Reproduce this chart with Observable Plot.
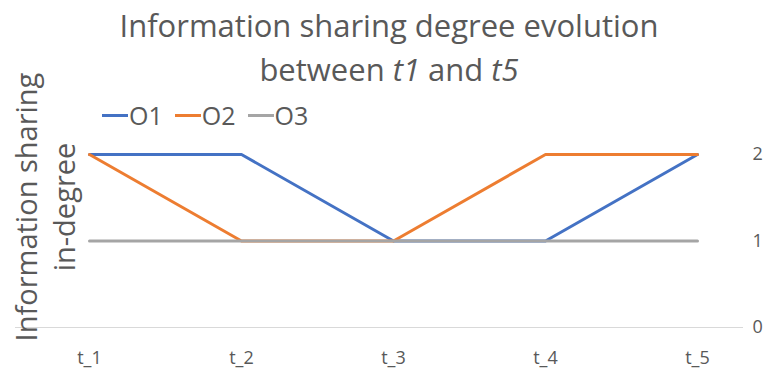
<!DOCTYPE html>
<html>
<head>
<meta charset="utf-8">
<script src="https://cdn.jsdelivr.net/npm/d3@7"></script>
<script src="https://cdn.jsdelivr.net/npm/@observablehq/plot@0.6"></script>
<style>
  html, body { margin: 0; padding: 0; background: #fff; }
  #wrap { position: relative; width: 764px; height: 368px; overflow: hidden; font-family: "Open Sans", sans-serif; color: #595959; }
  #title { height: 92px; text-align: center; font-size: 31px; line-height: 44px; padding-top: 3px; box-sizing: border-box; padding-left: 14px; }
  #legend { height: 46px; display: flex; align-items: center; padding-left: 102px; font-size: 25px; gap: 12px; }
  .item { display: flex; align-items: center; gap: 1px; }
  .sw { width: 26px; height: 3px; }
  #ylab { position: absolute; left: 45px; top: 207px; transform: translate(-50%, -50%) rotate(-90deg); font-size: 29px; line-height: 38px; text-align: center; white-space: nowrap; }
</style>
</head>
<body>
<div id="wrap">
  <div id="title">Information sharing degree evolution<br>between <i>t1</i> and <i>t5</i></div>
  <div id="legend"></div>
  <div id="chart"></div>
  <div id="ylab">Information sharing<br>in-degree</div>
</div>
<script>
const categories = ["t_1", "t_2", "t_3", "t_4", "t_5"];
const seriesNames = ["O1", "O2", "O3"];
const o1 = [2, 2, 1, 1, 2];
const o2 = [2, 1, 1, 2, 2];
const o3 = [1, 1, 1, 1, 1];
const yTicks = [0, 1, 2];
const colors = ["#4472C4", "#ED7D31", "#A5A5A5"];

const values = [o1, o2, o3];
const data = [];
seriesNames.forEach((s, i) => categories.forEach((c, j) => data.push({series: s, t: c, v: values[i][j]})));

const legend = document.getElementById("legend");
seriesNames.forEach((s, i) => {
  const it = document.createElement("div");
  it.className = "item";
  it.innerHTML = `<span class="sw" style="background:${colors[i]}"></span><span>${s}</span>`;
  legend.appendChild(it);
});

const chart = Plot.plot({
  width: 764,
  height: 230,
  marginTop: 16,
  marginBottom: 41,
  marginLeft: 89,
  marginRight: 67,
  style: {fontFamily: "Open Sans, sans-serif", color: "#595959", background: "transparent"},
  x: {type: "point", domain: categories, padding: 0, axis: null},
  y: {domain: [0, 2], axis: null},
  color: {domain: seriesNames, range: colors},
  marks: [
    Plot.ruleY([0], {stroke: "#D9D9D9", strokeWidth: 1, insetLeft: -74, insetRight: -46}),
    Plot.axisX({tickSize: 0, tickPadding: 24, fontSize: 18, label: null, fill: "#595959"}),
    Plot.axisY({anchor: "right", ticks: yTicks, tickFormat: d3.format("d"), tickSize: 0, tickPadding: 55, fontSize: 18, label: null, fill: "#595959"}),
    Plot.line(data, {x: "t", y: "v", z: "series", stroke: "series", strokeWidth: 3, strokeLinejoin: "round"})
  ]
});
document.getElementById("chart").appendChild(chart);
</script>
</body>
</html>
